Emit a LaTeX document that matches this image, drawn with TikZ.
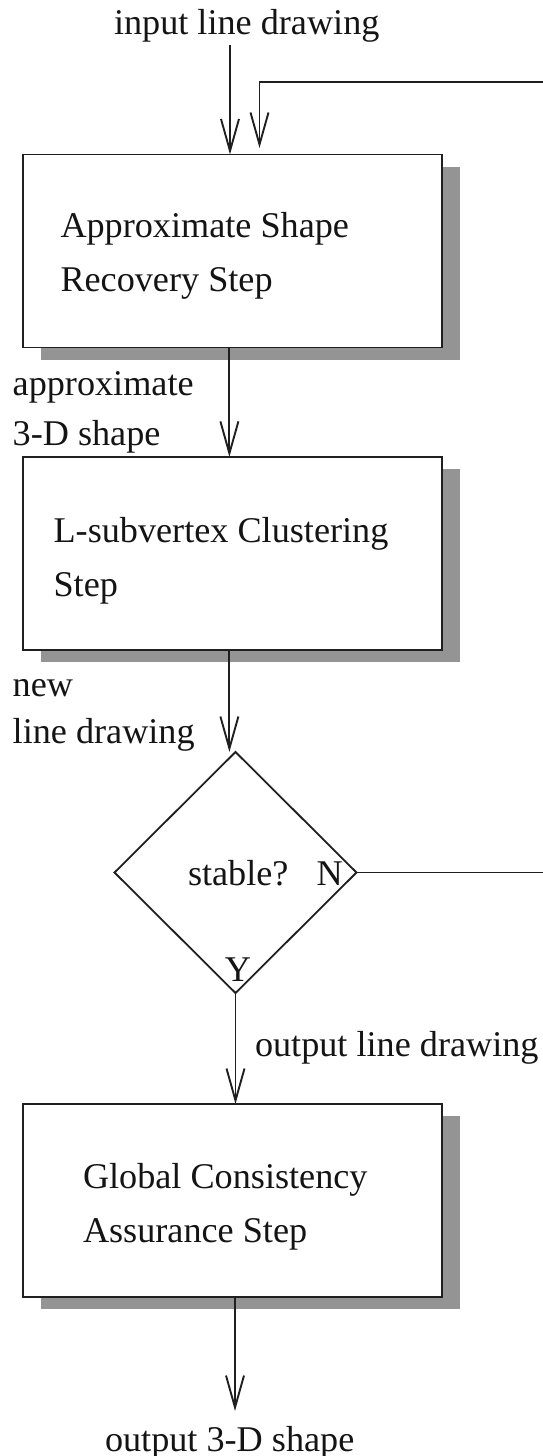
\documentclass[tikz,border=0pt]{standalone}
\usepackage{fontspec}
\setmainfont{Liberation Serif}
\usetikzlibrary{arrows.meta,shapes.geometric,shadows}
\begin{document}
\begin{tikzpicture}[x=1pt,y=-1pt,
  ln/.style={line width=1.9pt, draw=black!88},
  arr/.style={ln, -{Straight Barb[length=32pt,width=18pt,line width=1.9pt]}},
  stepbox/.style={draw=black!88, line width=1.8pt, fill=white,
    minimum width=419pt, minimum height=193pt, inner sep=0pt, outer sep=0pt,
    drop shadow={shadow xshift=18pt, shadow yshift=-12pt, fill=black!42, opacity=1}},
  txt/.style={anchor=base west, inner sep=0pt, outer sep=0pt, text=black!92,
    font=\fontsize{36.2}{54}\selectfont},
  decision/.style={diamond, draw=black!88, line width=1.8pt, fill=white,
    minimum width=242pt, minimum height=241pt, inner sep=0pt, outer sep=0pt}]
\useasboundingbox (0,0) rectangle (542,1456);

% top input
\node[txt] (in) at (114,34.5) {input line drawing};
\coordinate (inA) at (230,45);

% box 1
\node[stepbox] (b1) at (232.4,251) {};
\node[txt] (t1) at (60.5,237.8) {\vtop{\hbox{Approximate Shape}\hbox{Recovery Step}}};
\draw[arr] (inA) -- (inA |- b1.north);

% label 1
\node[txt] (l1) at (12.7,395) {\vtop{\baselineskip=50pt \hbox{approximate}\hbox{3-D shape}}};

% box 2
\node[stepbox] (b2) at (232.4,553.4) {};
\node[txt] (t2) at (53.6,542.5) {\vtop{\hbox{L-subvertex Clustering}\hbox{Step}}};
\draw[arr] ([xshift=-3pt]b1.south) -- ([xshift=-3pt]b2.north);

% label 2
\node[txt] (l2) at (12.7,696.7) {\vtop{\baselineskip=47pt \hbox{new}\hbox{line drawing}}};

% decision
\node[decision] (dia) at (235.5,872.5) {};
\node[txt] (st) at (188,885) {stable?};
\node[txt] (nn) at (316.7,885) {N};
\node[txt, anchor=base] (yy) at (238,981.7) {Y};
\draw[arr] ([xshift=-3pt]b2.south) -- ([xshift=-3pt]b2.south |- dia.north);

% feedback loop (its vertical run lies just beyond the right edge)
\coordinate (fbtop) at (543.8,82);
\coordinate (fbend) at (259.5,148);
\draw[arr] (dia.east) -| (fbtop) -- (fbtop -| fbend) -- (fbend);

% box 3
\node[txt] (old) at (255,1056) {output line drawing};
\node[stepbox] (b3) at (232.4,1200.5) {};
\node[txt] (t3) at (83,1188.3) {\vtop{\hbox{Global Consistency}\hbox{Assurance Step}}};
\draw[arr] (dia.south) -- (dia.south |- b3.north);

% output
\coordinate (outA) at (235,1411);
\draw[arr] (b3.south -| outA) -- (outA);
\node[txt] (out) at (105,1451) {output 3-D shape};
\end{tikzpicture}
\end{document}
